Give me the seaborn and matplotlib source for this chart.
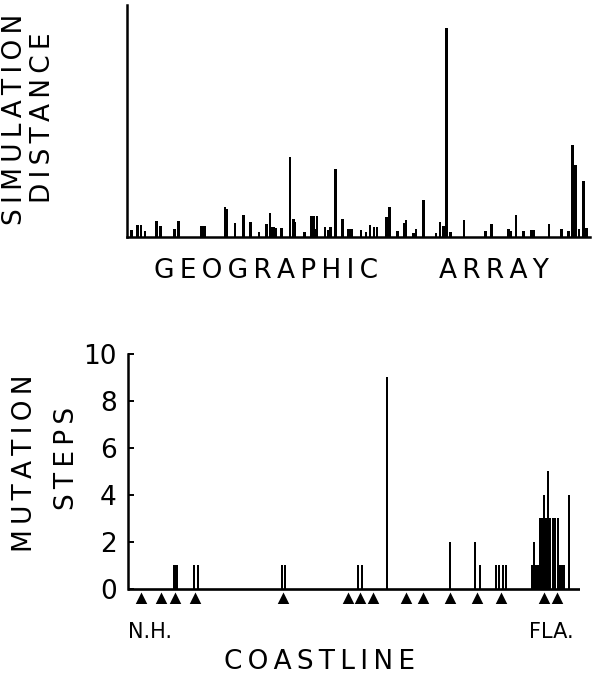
import numpy as np
import matplotlib
matplotlib.use('Agg')
import matplotlib.pyplot as plt
import seaborn as sns

# upper panel: position along the geographic array, simulation distance
array_pos = [4.7, 10.7, 14.0, 18.0, 29.7, 33.7, 47.3, 51.3, 74.7, 77.3, 98.0, 100.0, 108.0,
             116.3, 123.7, 132.0, 139.7, 143.0, 145.0, 147.0, 149.0, 154.7, 163.0, 166.3, 168.0,
             177.3, 184.7, 187.0, 189.0, 190.0, 198.0, 201.3, 203.7, 208.5, 215.3, 221.3, 224.7,
             234.0, 239.0, 243.0, 247.0, 250.0, 259.7, 262.3, 270.7, 277.3, 279.0, 286.3, 289.0,
             296.3, 309.0, 313.0, 316.7, 319.7, 323.3, 337.0, 358.7, 364.7, 381.3, 383.7, 389.0,
             396.3, 404.0, 406.3, 422.0, 434.7, 441.3, 445.7, 448.3, 452.0, 456.3, 459.7]
sim_dist = [7, 12, 12, 6, 16, 11, 8, 16, 11, 11, 30, 28, 14, 22, 15, 5, 13, 24, 10, 10, 9,
            9, 80, 18, 15, 5, 21, 21, 8, 21, 10, 7, 10, 68, 18, 8, 8, 7, 5, 12, 10, 10,
            20, 30, 6, 14, 17, 4, 8, 37, 4, 15, 11, 209, 5, 17, 6, 13, 8, 6, 22, 6,
            7, 7, 13, 8, 6, 92, 72, 8, 56, 9]

# lower panel: position along the coastline, mutation steps
coast_pos = [45.5, 47.0, 48.5, 66.0, 70.0, 154.0, 157.0, 229.7, 233.7, 258.7, 322.0, 347.0,
             352.0, 368.0, 371.3, 374.7, 378.0, 404.3, 406.0, 407.7, 409.5, 412.0, 413.7,
             415.7, 418.0, 420.3, 422.3, 424.7, 427.0, 430.3, 432.0, 434.0, 436.0, 441.0]
mutation_steps = [1, 1, 1, 1, 1, 1, 1, 1, 1, 9, 2, 2, 1, 1, 1, 1, 1, 1, 2, 1, 1, 3, 3,
                  4, 3, 5, 3, 3, 3, 3, 1, 1, 1, 4]
sample_sites = [13, 32.5, 46.5, 67, 155.3, 220.3, 232, 244.7, 278, 295.3, 322, 348.7,
                372.7, 416.3, 428.7]
ytick_vals = [0, 2, 4, 6, 8, 10]

sns.set_theme(style='ticks')
plt.rcParams['font.family'] = ['DejaVu Sans']
plt.rcParams['text.color'] = 'black'

W, H = 592, 680
fig = plt.figure(figsize=(W / 100, H / 100), dpi=100)


def box(l, t, r, b):
    return [l / W, 1 - b / H, (r - l) / W, (b - t) / H]


def spaced(s):
    return '\u2009'.join(s)


ax1 = fig.add_axes(box(127, 5, 590, 237))
ax1.bar(array_pos, sim_dist, width=2.6, color='black', linewidth=0)
ax1.set_xlim(0, 463)
ax1.set_ylim(0, 232)
ax1.set_xticks([])
ax1.set_yticks([])
sns.despine(ax=ax1)
for sp in ['left', 'bottom']:
    ax1.spines[sp].set_linewidth(1.8)
    ax1.spines[sp].set_color('black')

ax2 = fig.add_axes(box(128, 354, 580, 603))
ax2.bar(coast_pos, mutation_steps, width=2.0, color='black', linewidth=0)
sns.scatterplot(x=sample_sites, y=np.full(len(sample_sites), -0.4), marker='^', s=75,
                color='black', linewidth=0, ax=ax2, legend=False)
ax2.axhline(0, color='black', lw=1.9)
ax2.set_xlim(0, 452)
ax2.set_ylim(-0.6, 10)
ax2.set_xticks([])
ax2.set_yticks(ytick_vals)
ax2.set_yticklabels([str(v) for v in ytick_vals], fontsize=19)
ax2.tick_params(axis='y', direction='in', length=4, width=1.4, pad=8, colors='black')
sns.despine(ax=ax2, bottom=True)
ax2.spines['left'].set_bounds(0, 10)
ax2.spines['left'].set_linewidth(1.8)
ax2.spines['left'].set_color('black')

fs = 19
fig.text(15 / W, 1 - 119 / H, spaced('SIMULATION'), rotation=90, ha='center', va='center', fontsize=fs)
fig.text(43 / W, 1 - 118 / H, spaced('DISTANCE'), rotation=90, ha='center', va='center', fontsize=fs)
fig.text(266 / W, 1 - 271 / H, spaced('GEOGRAPHIC'), ha='center', va='center', fontsize=fs)
fig.text(494 / W, 1 - 271 / H, spaced('ARRAY'), ha='center', va='center', fontsize=fs)
fig.text(25 / W, 1 - 463 / H, spaced('MUTATION'), rotation=90, ha='center', va='center', fontsize=fs)
fig.text(67 / W, 1 - 458 / H, spaced('STEPS'), rotation=90, ha='center', va='center', fontsize=fs)
fig.text(150 / W, 1 - 632 / H, 'N.H.', ha='center', va='center', fontsize=15)
fig.text(551 / W, 1 - 632 / H, 'FLA.', ha='center', va='center', fontsize=15)
fig.text(319 / W, 1 - 662 / H, spaced('COASTLINE'), ha='center', va='center', fontsize=fs)

fig.savefig('out.png', dpi=100, facecolor='white')
